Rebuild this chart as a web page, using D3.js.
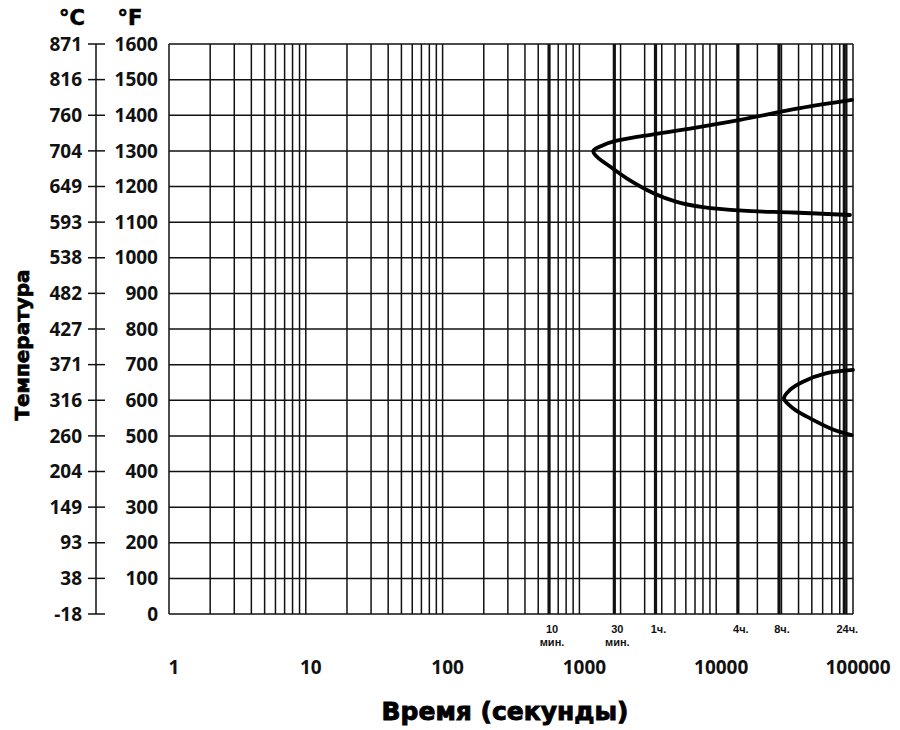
<!DOCTYPE html>
<html>
<head>
<meta charset="utf-8">
<script src="https://cdn.jsdelivr.net/npm/d3@7"></script>
<style>
  body { margin: 0; background: #fff; }
  svg { display: block; }
</style>
</head>
<body>
<svg id="chart" width="900" height="730"></svg>
<script>
// ---- data ----
const fahrenheitTicks = [0,100,200,300,400,500,600,700,800,900,1000,1100,1200,1300,1400,1500,1600];
const celsiusLabels = ["-18","38","93","149","204","260","316","371","427","482","538","593","649","704","760","816","871"];
const decadeTicks = [1,10,100,1000,10000,100000];
const decadeLabels = ["1","10","100","1000","10000","100000"];
const specialTimes = [600,1800,3600,14400,28800,86400];
const specialLabels = [["10","мин."],["30","мин."],["1ч."],["4ч."],["8ч."],["24ч."]];
// upper C-curve (seconds, °F), drawn from top-right end through nose to lower-right end
const upperCurve = [[98400,1443],[41000,1420],[14920,1387],[6766,1364],[2917,1342],[1762,1326],[1488,1316],[1264,1300],[1338,1284],[1674,1256],[2218,1223],[3452,1182],[5143,1157],[8010,1142],[15700,1132],[36400,1127],[95100,1120]];
// lower C-curve
const lowerCurve = [[100000,685],[64200,676],[43100,652],[34600,629],[31300,605],[36600,577],[51000,545],[71400,518],[97800,502]];

// ---- layout ----
const svg = d3.select("#chart");
const pLeft = 169, pRight = 853, pTop = 44, pBottom = 614;
const x = d3.scaleLog().domain([1,100000]).range([pLeft,pRight]);
const y = d3.scaleLinear().domain([0,1600]).range([pBottom,pTop]);
const ink = "#111";

// minor log grid lines
const minor = [];
for (let e = 0; e < 5; e++) for (let m = 1; m <= 9; m++) minor.push(m * Math.pow(10, e));
minor.push(100000);

const g = svg.append("g");
g.selectAll("line.v").data(minor).enter().append("line")
  .attr("x1", d => x(d)).attr("x2", d => x(d))
  .attr("y1", pTop).attr("y2", pBottom)
  .attr("stroke", ink).attr("stroke-width", 1.5);

g.selectAll("line.s").data(specialTimes).enter().append("line")
  .attr("x1", d => x(d)).attr("x2", d => x(d))
  .attr("y1", pTop).attr("y2", pBottom)
  .attr("stroke", ink).attr("stroke-width", 3.2);

g.selectAll("line.h").data(fahrenheitTicks).enter().append("line")
  .attr("x1", pLeft).attr("x2", pRight)
  .attr("y1", d => y(d)).attr("y2", d => y(d))
  .attr("stroke", ink).attr("stroke-width", 1.5);

// left dual axis
const axisX = 96;
svg.append("line").attr("x1", axisX).attr("x2", axisX).attr("y1", y(1600)).attr("y2", y(0))
  .attr("stroke", ink).attr("stroke-width", 1.5);
svg.selectAll("line.tick").data(fahrenheitTicks).enter().append("line")
  .attr("x1", axisX - 8).attr("x2", axisX + 9)
  .attr("y1", d => y(d)).attr("y2", d => y(d))
  .attr("stroke", ink).attr("stroke-width", 1.5);

const labelFont = "'Open Sans', 'Liberation Sans', sans-serif";
const heavy = "'DejaVu Sans', sans-serif";
svg.selectAll("text.c").data(fahrenheitTicks).enter().append("text")
  .attr("x", 82).attr("y", d => y(d)).attr("dy", "0.35em")
  .attr("text-anchor", "end").attr("font-family", labelFont).attr("font-weight", 700)
  .attr("font-size", 19).attr("fill", ink)
  .text((d, i) => celsiusLabels[i]);
svg.selectAll("text.f").data(fahrenheitTicks).enter().append("text")
  .attr("x", 158).attr("y", d => y(d)).attr("dy", "0.35em")
  .attr("text-anchor", "end").attr("font-family", labelFont).attr("font-weight", 700)
  .attr("font-size", 19).attr("fill", ink)
  .text(d => d);

[["°C", 72], ["°F", 130]].forEach(([t, px]) => {
  svg.append("text").attr("x", px).attr("y", 25).attr("text-anchor", "middle")
    .attr("font-family", heavy).attr("font-weight", 700).attr("font-size", 21)
    .attr("fill", "#000").attr("stroke", "#000").attr("stroke-width", 0.6).text(t);
});

svg.append("text").attr("transform", "translate(29,345) rotate(-90)")
  .attr("text-anchor", "middle")
  .attr("font-family", heavy).attr("font-weight", 700).attr("font-size", 20)
  .attr("fill", "#000").attr("stroke", "#000").attr("stroke-width", 0.7)
  .text("Температура");

// bottom decade labels
svg.selectAll("text.dec").data(decadeTicks).enter().append("text")
  .attr("x", d => x(d) + 5).attr("y", 674)
  .attr("text-anchor", "middle").attr("font-family", labelFont).attr("font-weight", 700)
  .attr("font-size", 19).attr("fill", ink)
  .text((d, i) => decadeLabels[i]);

// special time labels (one text per line)
specialTimes.forEach((t, i) => {
  specialLabels[i].forEach((s, j) => {
    svg.append("text").attr("x", x(t) + 3).attr("y", 633 + j * 13)
      .attr("text-anchor", "middle").attr("font-family", "'Liberation Sans', sans-serif").attr("font-weight", 700)
      .attr("font-size", 11).attr("fill", ink).text(s);
  });
});

svg.append("text").attr("x", 505).attr("y", 720).attr("text-anchor", "middle")
  .attr("font-family", heavy).attr("font-weight", 700).attr("font-size", 25)
  .attr("fill", "#000").attr("stroke", "#000").attr("stroke-width", 0.9)
  .text("Время (секунды)");

// curves
const line = d3.line().x(d => x(d[0])).y(d => y(d[1])).curve(d3.curveCatmullRom.alpha(0.5));
[upperCurve, lowerCurve].forEach(c => {
  svg.append("path").attr("d", line(c)).attr("fill", "none")
    .attr("stroke", "#000").attr("stroke-width", 3.8).attr("stroke-linecap", "round");
});
</script>
</body>
</html>
